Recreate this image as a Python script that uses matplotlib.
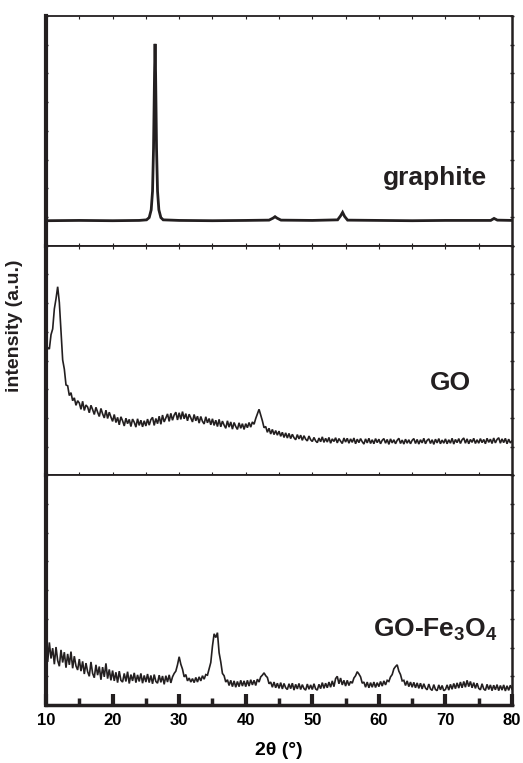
import numpy as np
import matplotlib.pyplot as plt
from matplotlib.ticker import MultipleLocator

plt.rcParams['font.family'] = 'Liberation Sans'
plt.rcParams['font.weight'] = 'bold'
plt.rcParams['mathtext.fontset'] = 'custom'
plt.rcParams['mathtext.bf'] = 'Liberation Sans:bold'
plt.rcParams['mathtext.rm'] = 'Liberation Sans:bold'

INK = '#231f20'

# graphite pattern (smooth, read at irregular 2theta positions)
graphite_x = [10, 15, 20, 24, 25.1, 25.5, 25.8, 26.0, 26.15, 26.3, 26.38, 26.46,
              26.6, 26.75, 26.95, 27.25, 27.6, 30, 35, 40, 43.5, 44.1, 44.4,
              44.7, 45.3, 50, 53.8, 54.25, 54.55, 54.85, 55.3, 60, 65, 70,
              76.8, 77.3, 77.8, 80]
graphite_y = [0.87, 0.88, 0.87, 0.88, 0.90, 0.98, 1.25, 1.9, 3.4, 6.0, 7.03, 6.0,
              3.4, 1.9, 1.25, 0.98, 0.90, 0.88, 0.87, 0.88, 0.89, 0.96, 1.01,
              0.96, 0.89, 0.88, 0.90, 1.04, 1.16, 1.02, 0.89, 0.88, 0.87, 0.88,
              0.88, 0.95, 0.89, 0.88]

# GO and GO-Fe3O4 read every 0.25 deg, one row = 5 deg
noisy_x = np.linspace(10, 80, 281)

go_y = [
    4.20, 4.45, 4.40, 4.90, 5.10, 5.80, 6.15, 6.57, 6.02, 5.00, 4.02, 3.70, 3.15, 3.12, 2.78, 2.88, 2.60, 2.70, 2.44, 2.60,
    2.52, 2.30, 2.58, 2.26, 2.45, 2.38, 2.18, 2.44, 2.29, 2.12, 2.37, 2.20, 2.05, 2.33, 2.14, 2.00, 2.27, 1.98, 2.20, 2.03,
    1.88, 2.12, 1.84, 2.02, 1.76, 2.04, 1.90, 1.72, 1.99, 1.80, 1.95, 1.70, 1.96, 1.85, 1.68, 1.97, 1.74, 1.92, 1.69, 1.90,
    1.72, 1.96, 1.75, 1.94, 2.02, 1.74, 1.98, 1.80, 2.06, 1.78, 2.10, 1.86, 2.00, 2.14, 1.88, 2.16, 1.92, 2.10, 2.20, 1.93,
    2.18, 1.95, 2.22, 1.97, 2.15, 1.90, 2.13, 2.00, 1.86, 2.12, 1.90, 2.06, 1.82, 2.05, 1.88, 1.79, 2.04, 1.83, 1.98, 1.76,
    1.97, 1.74, 1.92, 1.70, 1.95, 1.69, 1.89, 1.75, 1.64, 1.90, 1.68, 1.86, 1.61, 1.84, 1.70, 1.60, 1.83, 1.64, 1.80, 1.60,
    1.80, 1.66, 1.84, 1.68, 1.86, 1.78, 1.98, 2.14, 2.30, 2.10, 1.90, 1.66, 1.70, 1.50, 1.64, 1.44, 1.60, 1.42, 1.56, 1.40,
    1.54, 1.36, 1.50, 1.32, 1.48, 1.30, 1.46, 1.28, 1.43, 1.31, 1.24, 1.42, 1.27, 1.40, 1.22, 1.38, 1.26, 1.20, 1.37, 1.24,
    1.18, 1.32, 1.20, 1.14, 1.30, 1.17, 1.34, 1.15, 1.29, 1.16, 1.32, 1.12, 1.27, 1.18, 1.31, 1.13, 1.28, 1.19, 1.11, 1.30,
    1.16, 1.29, 1.12, 1.27, 1.15, 1.30, 1.10, 1.26, 1.14, 1.28, 1.17, 1.09, 1.27, 1.13, 1.29, 1.11, 1.24, 1.10, 1.28, 1.14,
    1.26, 1.10, 1.22, 1.28, 1.12, 1.25, 1.08, 1.27, 1.13, 1.24, 1.10, 1.22, 1.29, 1.11, 1.23, 1.09, 1.26, 1.12, 1.24, 1.10,
    1.22, 1.28, 1.11, 1.25, 1.09, 1.24, 1.13, 1.29, 1.10, 1.22, 1.27, 1.11, 1.24, 1.08, 1.26, 1.13, 1.28, 1.10, 1.23, 1.12,
    1.27, 1.10, 1.24, 1.12, 1.29, 1.09, 1.25, 1.14, 1.28, 1.11, 1.24, 1.30, 1.12, 1.27, 1.10, 1.25, 1.15, 1.29, 1.11, 1.24,
    1.12, 1.28, 1.14, 1.25, 1.10, 1.29, 1.15, 1.26, 1.11, 1.30, 1.13, 1.25, 1.31, 1.12, 1.27, 1.14, 1.29, 1.10, 1.26, 1.13,
    1.20,
]

gofe_y = [
    2.10, 1.50, 2.18, 1.62, 1.98, 1.42, 2.02, 1.55, 1.35, 1.92, 1.48, 1.84, 1.30, 1.78, 1.40, 1.86, 1.28, 1.70, 1.36, 1.22,
    1.60, 1.18, 1.52, 1.08, 1.46, 1.16, 1.00, 1.50, 1.10, 0.95, 1.40, 1.04, 1.34, 0.88, 1.32, 0.98, 1.45, 0.92, 1.24, 0.86,
    1.20, 0.84, 1.14, 0.78, 1.18, 0.86, 0.80, 1.10, 0.82, 1.16, 0.75, 1.06, 0.84, 1.12, 0.78, 1.05, 0.82, 1.10, 0.76, 1.03,
    0.80, 1.08, 0.78, 1.03, 0.74, 1.06, 0.82, 0.76, 1.04, 0.79, 1.01, 0.72, 1.02, 0.80, 1.05, 0.77, 0.98, 1.10, 1.18, 1.40,
    1.68, 1.42, 1.25, 0.98, 1.06, 0.84, 0.94, 0.80, 0.92, 0.78, 0.96, 0.80, 0.98, 0.84, 1.02, 0.90, 1.06, 1.04, 1.26, 1.48,
    2.05, 2.48, 2.35, 2.52, 1.82, 1.50, 1.10, 1.02, 0.80, 0.88, 0.68, 0.86, 0.64, 0.84, 0.62, 0.82, 0.64, 0.86, 0.66, 0.84,
    0.64, 0.86, 0.66, 0.88, 0.70, 0.86, 0.68, 0.90, 0.80, 0.98, 1.04, 1.12, 1.02, 0.96, 0.74, 0.80, 0.62, 0.80, 0.60, 0.76,
    0.58, 0.78, 0.56, 0.75, 0.60, 0.54, 0.74, 0.57, 0.76, 0.52, 0.72, 0.56, 0.75, 0.54, 0.71, 0.57, 0.52, 0.73, 0.55, 0.70,
    0.54, 0.74, 0.56, 0.52, 0.72, 0.57, 0.78, 0.58, 0.76, 0.60, 0.80, 0.62, 0.84, 0.64, 0.92, 1.00, 0.74, 0.94, 0.70, 0.86,
    0.66, 0.86, 0.68, 0.82, 0.76, 0.94, 1.02, 1.16, 1.08, 0.98, 0.76, 0.80, 0.62, 0.80, 0.60, 0.78, 0.62, 0.80, 0.61, 0.78,
    0.64, 0.82, 0.66, 0.84, 0.70, 0.86, 0.82, 0.98, 1.06, 1.26, 1.34, 1.40, 1.18, 1.06, 0.84, 0.86, 0.68, 0.84, 0.64, 0.80,
    0.62, 0.79, 0.60, 0.77, 0.58, 0.76, 0.56, 0.74, 0.59, 0.53, 0.73, 0.56, 0.51, 0.71, 0.54, 0.50, 0.70, 0.53, 0.68, 0.50,
    0.54, 0.70, 0.52, 0.72, 0.55, 0.75, 0.57, 0.77, 0.59, 0.80, 0.60, 0.82, 0.62, 0.86, 0.64, 0.82, 0.60, 0.78, 0.58, 0.76,
    0.58, 0.53, 0.74, 0.56, 0.51, 0.72, 0.54, 0.70, 0.50, 0.69, 0.53, 0.71, 0.50, 0.68, 0.52, 0.70, 0.49, 0.67, 0.51, 0.69,
    0.55,
]

labels = ['graphite', 'GO', r'GO-Fe$_\mathbf{3}$O$_\mathbf{4}$']
label_pos = [(76.3, 2.12), (73.9, 2.96), (77.9, 2.37)]

fig, axes = plt.subplots(3, 1, sharex=True, figsize=(5.23, 7.63), dpi=100,
                         gridspec_kw={'hspace': 0})
fig.subplots_adjust(left=0.088, right=0.979, top=0.979, bottom=0.076)

series = [(graphite_x, graphite_y, 2.0), (noisy_x, go_y, 1.2), (noisy_x, gofe_y, 1.2)]
for i, ax in enumerate(axes):
    x, y, lw = series[i]
    ax.plot(x, y, color=INK, linewidth=lw, solid_joinstyle='miter')
    ax.set_xlim(10, 80)
    ax.set_ylim(0, 8)
    ax.yaxis.set_major_locator(MultipleLocator(1))
    ax.set_yticklabels([])
    ax.tick_params(axis='y', left=True, right=True, direction='inout',
                   length=3, width=1, color=INK)
    ax.spines['left'].set_linewidth(3)
    ax.spines['right'].set_linewidth(1.8)
    ax.spines['top'].set_linewidth(1.3)
    ax.spines['bottom'].set_linewidth(1.3)
    for s in ax.spines.values():
        s.set_color(INK)
    ax.xaxis.set_major_locator(MultipleLocator(10))
    ax.xaxis.set_minor_locator(MultipleLocator(5))
    ax.tick_params(axis='x', which='both', top=True, direction='in',
                   length=2, width=0.8, color=INK)
    tx, ty = label_pos[i]
    ax.text(tx, ty, labels[i], ha='right', va='baseline', fontsize=19,
            fontweight='bold', color=INK)

# the bottom panel carries the heavy ticks and the labels
bottom_ax = axes[-1]
bottom_ax.spines['bottom'].set_linewidth(2.5)
bottom_ax.tick_params(axis='x', which='both', top=False)
bottom_ax.tick_params(axis='x', which='major', bottom=True, direction='in',
                      length=8, width=3, pad=6, labelsize=12, color=INK)
bottom_ax.tick_params(axis='x', which='minor', bottom=True, direction='in',
                      length=5, width=2.5, color=INK)
bottom_ax.set_xlabel('2θ (°)', fontsize=14, fontweight='bold', labelpad=10)

fig.text(15 / 523, 1 - 326 / 763, 'intensity (a.u.)', rotation=90,
         ha='center', va='center', fontsize=14, fontweight='bold', color=INK)

fig.savefig('out.png', dpi=100)
